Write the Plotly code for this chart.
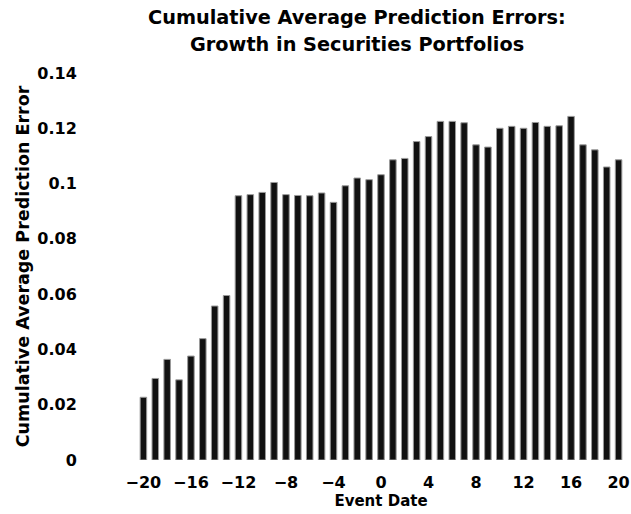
import plotly.graph_objects as go

event_dates = list(range(-20, 21))
cape_values = [
    0.0227, 0.0295, 0.0364, 0.0290, 0.0376, 0.0439, 0.0557, 0.0595,
    0.0956, 0.0960, 0.0968, 0.1004, 0.0960, 0.0957, 0.0956, 0.0966,
    0.0932, 0.0992, 0.1020, 0.1014, 0.1032, 0.1086, 0.1091, 0.1152,
    0.1170, 0.1225, 0.1225, 0.1220, 0.1140, 0.1132, 0.1200, 0.1207,
    0.1200, 0.1221, 0.1207, 0.1209, 0.1243, 0.1140, 0.1122, 0.1060,
    0.1086,
]
x_tick_vals = [-20, -16, -12, -8, -4, 0, 4, 8, 12, 16, 20]
y_tick_vals = [0, 0.02, 0.04, 0.06, 0.08, 0.1, 0.12, 0.14]
y_tick_text = ["0", "0.02", "0.04", "0.06", "0.08", "0.1", "0.12", "0.14"]
title_lines = ["Cumulative Average Prediction Errors:", "Growth in Securities Portfolios"]

FONT = "DejaVu Sans, Verdana, sans-serif"

fig = go.Figure(
    go.Bar(
        x=event_dates,
        y=cape_values,
        width=0.55,
        marker=dict(color="#111111", line=dict(color="#9a9a9a", width=1)),
    )
)

fig.update_layout(
    width=631,
    height=514,
    margin=dict(l=137, r=1, t=73, b=54),
    paper_bgcolor="white",
    plot_bgcolor="white",
    showlegend=False,
    font=dict(family=FONT, color="black"),
    annotations=[
        dict(text="<b>" + title_lines[0] + "</b>", xref="paper", yref="paper",
             x=0.4503, y=1.1447, xanchor="center", yanchor="middle", showarrow=False,
             font=dict(family=FONT, size=19.3, color="black")),
        dict(text="<b>" + title_lines[1] + "</b>", xref="paper", yref="paper",
             x=0.4503, y=1.0749, xanchor="center", yanchor="middle", showarrow=False,
             font=dict(family=FONT, size=19.3, color="black")),
    ],
)

fig.update_xaxes(
    range=[-20.54, 20.54],
    tickvals=x_tick_vals,
    ticktext=["<b>" + (("\u2212" + str(abs(v))) if v < 0 else str(v)) + "</b>" for v in x_tick_vals],
    tickfont=dict(size=16, family=FONT, color="black"),
    ticklabeloverflow="allow",
    ticks="outside",
    ticklen=8,
    tickcolor="rgba(0,0,0,0)",
    showgrid=False,
    zeroline=False,
    showline=False,
    title=dict(text="<b>Event Date</b>", font=dict(size=15, family=FONT), standoff=2),
)
fig.update_yaxes(
    range=[0, 0.14],
    tickvals=y_tick_vals,
    ticktext=["<b>" + t + "</b>" for t in y_tick_text],
    tickfont=dict(size=16, family=FONT, color="black"),
    ticks="outside",
    ticklen=56,
    tickcolor="rgba(0,0,0,0)",
    showgrid=False,
    zeroline=False,
    showline=False,
    title=dict(text="<b>Cumulative Average Prediction Error</b>", font=dict(size=17.5, family=FONT), standoff=3),
)

fig.write_html(
    "out.html",
    config={"displayModeBar": False},
    post_script="document.body.style.margin='0';",
)
